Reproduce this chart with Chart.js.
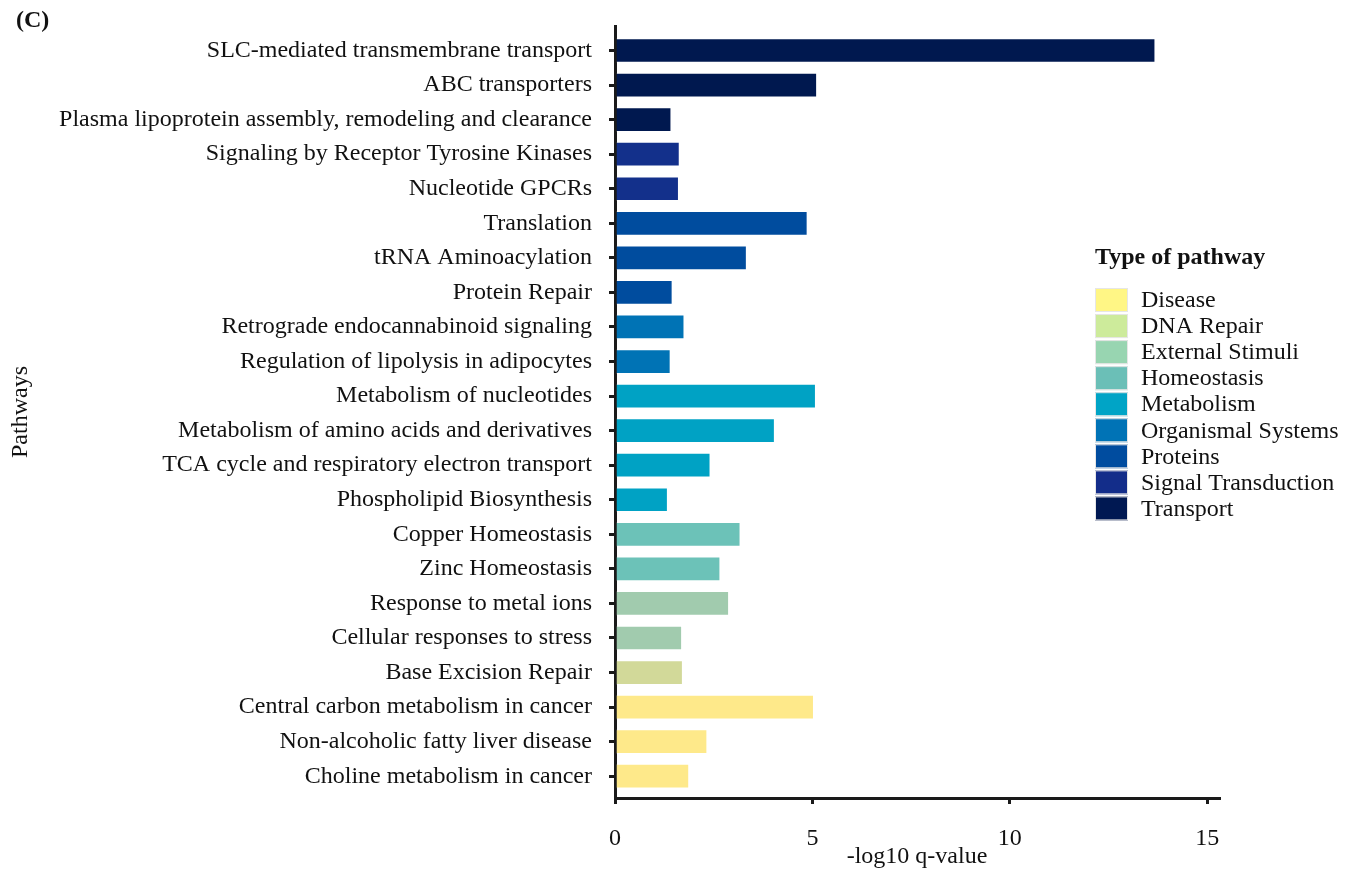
<!DOCTYPE html>
<html>
<head>
<meta charset="utf-8">
<script src="https://cdn.jsdelivr.net/npm/chart.js@4.4.0/dist/chart.umd.min.js"></script>
<style>
  html, body { margin: 0; padding: 0; background: #fff; }
  #wrap { width: 1359px; height: 873px; position: relative; }
</style>
</head>
<body>
<div id="wrap"><canvas id="myChart"></canvas></div>
<script>
// data
const pathways = [
  "SLC-mediated transmembrane transport",
  "ABC transporters",
  "Plasma lipoprotein assembly, remodeling and clearance",
  "Signaling by Receptor Tyrosine Kinases",
  "Nucleotide GPCRs",
  "Translation",
  "tRNA Aminoacylation",
  "Protein Repair",
  "Retrograde endocannabinoid signaling",
  "Regulation of lipolysis in adipocytes",
  "Metabolism of nucleotides",
  "Metabolism of amino acids and derivatives",
  "TCA cycle and respiratory electron transport",
  "Phospholipid Biosynthesis",
  "Copper Homeostasis",
  "Zinc Homeostasis",
  "Response to metal ions",
  "Cellular responses to stress",
  "Base Excision Repair",
  "Central carbon metabolism in cancer",
  "Non-alcoholic fatty liver disease",
  "Choline metabolism in cancer",
];
const qvalues = [13.69, 5.12, 1.43, 1.64, 1.62, 4.88, 3.34, 1.46, 1.76, 1.41, 5.09, 4.05, 2.42, 1.34, 3.18, 2.67, 2.89, 1.70, 1.72, 5.04, 2.34, 1.88];
const pathwayTypes = [
  "Transport", "Transport", "Transport",
  "Signal Transduction", "Signal Transduction",
  "Proteins", "Proteins", "Proteins",
  "Organismal Systems", "Organismal Systems",
  "Metabolism", "Metabolism", "Metabolism", "Metabolism",
  "Homeostasis", "Homeostasis",
  "External Stimuli", "External Stimuli",
  "DNA Repair",
  "Disease", "Disease", "Disease",
];
const typeNames = ["Disease", "DNA Repair", "External Stimuli", "Homeostasis", "Metabolism", "Organismal Systems", "Proteins", "Signal Transduction", "Transport"];
const xTicks = [0, 5, 10, 15];

// colours
const legendColors = ["#fff685", "#cdeb9b", "#98d5b1", "#6bbfb7", "#00a4c6", "#0073b6", "#004c9f", "#132d8a", "#001852"];
const barColors = ["#fee98a", "#d2d999", "#a1cbae", "#6cc2b8", "#00a2c4", "#0073b5", "#004c9e", "#13308b", "#00184f"];

const FONT = "'Liberation Serif', 'Times New Roman', serif";
const INK = "#111";

const legendPlugin = {
  id: "typeLegend",
  afterDraw(chart) {
    const ctx = chart.ctx;
    ctx.save();
    ctx.fillStyle = INK;
    ctx.textBaseline = "middle";
    ctx.textAlign = "left";
    // panel letter
    ctx.font = "bold 24px " + FONT;
    ctx.fillText("(C)", 16, 21);
    // legend
    ctx.fillText("Type of pathway", 1095, 258);
    ctx.font = "24px " + FONT;
    typeNames.forEach((name, i) => {
      const top = 288 + i * 26.05;
      ctx.fillStyle = legendColors[i];
      ctx.fillRect(1095, top, 33, 24);
      ctx.strokeStyle = "#e6e6e6";
      ctx.lineWidth = 1;
      ctx.strokeRect(1095.5, top + 0.5, 32, 23);
      ctx.fillStyle = INK;
      ctx.fillText(name, 1141, top + 13);
    });
    ctx.restore();
  },
};

const ctx = document.getElementById("myChart");

const chart = new Chart(ctx, {
  type: "bar",
  data: {
    datasets: [
      {
        label: "-log10 q-value",
        data: qvalues.map((v, i) => ({ x: v, y: i })),
        backgroundColor: pathwayTypes.map((t) => barColors[typeNames.indexOf(t)]),
        borderColor: "rgba(255,255,255,0.45)",
        borderWidth: 1,
        barPercentage: 0.715,
        categoryPercentage: 1,
      },
    ],
  },
  options: {
    indexAxis: "y",
    responsive: true,
    maintainAspectRatio: false,
    animation: false,
    layout: { padding: { top: 26, right: 140, bottom: 0, left: 0 } },
    plugins: {
      legend: { display: false },
      tooltip: { enabled: false },
    },
    scales: {
      x: {
        type: "linear",
        min: 0,
        max: 15.3,
        afterBuildTicks: (scale) => {
          scale.ticks = xTicks.map((v) => ({ value: v }));
        },
        afterFit: (scale) => {
          scale.height = 75;
        },
        grid: { drawOnChartArea: false, drawTicks: true, tickLength: 6, lineWidth: 3, color: "#1a1a1a" },
        border: { display: true, width: 3, color: "#1a1a1a" },
        ticks: { color: INK, padding: 20, font: { family: FONT, size: 24 } },
        title: {
          display: true,
          text: "-log10 q-value",
          color: INK,
          padding: { top: 0, bottom: 2 },
          font: { family: FONT, size: 24 },
        },
      },
      y: {
        type: "linear",
        reverse: true,
        offset: false,
        min: -0.709,
        max: 21.63,
        afterBuildTicks: (scale) => {
          scale.ticks = pathways.map((p, i) => ({ value: i }));
        },
        afterFit: (scale) => {
          scale.width = 615;
          scale.paddingTop = 0;
          scale.paddingBottom = 0;
        },
        grid: { offset: false, drawOnChartArea: false, drawTicks: true, tickLength: 6, lineWidth: 3, color: "#1a1a1a" },
        border: { display: true, width: 3, color: "#1a1a1a" },
        ticks: {
          color: INK,
          padding: 17,
          autoSkip: false,
          font: { family: FONT, size: 24 },
          callback: (v) => pathways[v],
        },
        title: {
          display: true,
          text: "Pathways",
          color: INK,
          padding: { top: 6, bottom: 0 },
          font: { family: FONT, size: 24 },
        },
      },
    },
  },
  plugins: [legendPlugin],
});
</script>
</body>
</html>
